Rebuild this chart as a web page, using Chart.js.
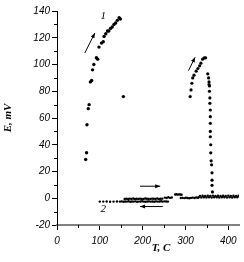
<!DOCTYPE html>
<html>
<head>
<meta charset="utf-8">
<script src="https://cdn.jsdelivr.net/npm/chart.js@4/dist/chart.umd.min.js"></script>
<style>
  html, body { margin: 0; padding: 0; background: #fff; }
  #wrap { width: 244px; height: 262px; }
</style>
</head>
<body>
<div id="wrap"><canvas id="chart" width="244" height="262"></canvas></div>
<script>
const xTicks = [0, 100, 200, 300, 400];
const xMinor = [50, 150, 250, 350];
const yTicks = [-20, 0, 20, 40, 60, 80, 100, 120, 140];
const yMinor = [-10, 10, 30, 50, 70, 90, 110, 130];

// curve 1, first peak (heating)
const peak1T = [67, 69, 70, 73, 75, 78, 81, 83, 86, 92, 95, 98, 104, 108, 110, 114, 118, 121, 125, 129, 133, 137, 141, 145, 148, 155];
const peak1E = [29, 34, 55, 67, 70, 87, 88, 96, 100, 105, 104, 113, 116, 117, 121, 123, 125, 125, 127, 128, 130, 131, 133, 135, 134, 76];

// curve 1, second peak
const peak2T = [311, 313, 315, 317, 320, 325, 329, 333, 336, 340, 344, 347, 352, 354, 355, 355, 356, 356, 357, 357, 358, 358, 358, 358, 358, 359, 359, 360, 361, 362, 362, 362, 363];
const peak2E = [76, 81, 86, 90, 92, 95, 97, 99, 101, 104, 105, 105, 93, 90, 87, 85, 84, 80, 75, 71, 66, 61, 56, 50, 46, 40, 34, 28, 25, 19, 13.5, 9.7, 4.7];

// curve 2, heating branch
const heat2T = [158, 162, 166, 170, 174, 178, 182, 186, 190, 194, 198, 202, 206, 210, 214, 218, 222, 226, 230, 234, 238, 242, 246,
  252, 256, 260, 264, 268,
  276, 279, 282, 285, 288, 291,
  289, 293, 297, 301, 305, 309, 313, 317, 321, 325, 329,
  331, 334, 337, 340, 343, 346, 349, 352, 355, 358, 361, 364, 367, 370, 373, 376, 379, 382, 385, 388, 391, 394, 397, 400, 403, 406, 409, 412, 415, 418, 421, 424];
const heat2E = [-0.5, -0.4, -0.6, -0.3, -0.5, -0.2, -0.6, -0.4, -0.5, -0.3, -0.6, -0.5, -0.2, -0.4, -0.6, -0.5, -0.3, -0.4, -0.6, -0.2, -0.5, -0.4, -0.3,
  0.5, 0.2, 0.8, 0.3, 0.6,
  2.8, 3.0, 2.7, 2.9, 2.8, 2.6,
  0.2, 0.3, 0.1, 0.4, 0.2, 0.0, 0.3, 0.5, 0.2, 0.6, 0.4,
  0.7, 1.8, 0.6, 1.9, 0.8, 1.7, 0.6, 1.9, 0.7, 1.8, 0.6, 2.0, 0.7, 1.8, 0.8, 1.9, 0.6, 1.7, 0.7, 1.9, 0.8, 1.8, 0.6, 2.0, 0.7, 1.8, 0.6, 1.9, 0.8, 1.8, 0.7, 1.9];

// curve 2, cooling branch
const cool2T = [100, 108, 116, 124, 132, 140, 147, 151, 155, 159, 163, 167, 171, 175, 179, 183, 187, 191, 195, 199, 203, 207, 211, 215, 219, 223, 227, 231, 235, 239, 243, 247, 251, 255, 259];
const cool2E = [-2.5, -2.5, -2.4, -2.6, -2.5, -2.4, -2.5, -2.3, -2.6, -2.4, -2.5, -2.2, -2.6, -2.4, -2.5, -2.3, -2.6, -2.5, -2.4, -2.2, -2.5, -2.6, -2.4, -2.3, -2.5, -2.4, -2.6, -2.3, -2.5, -2.4, -2.2, -2.5, -2.3, -2.4, -2.5];

function pts(xs, ys) {
  return xs.map((x, i) => ({ x: x, y: ys[i] }));
}

const extras = {
  id: "extras",
  afterDraw(chart) {
    const { ctx, chartArea, scales: { x, y } } = chart;
    ctx.save();
    ctx.strokeStyle = "#000";
    ctx.fillStyle = "#000";
    ctx.lineWidth = 1;

    // minor ticks
    ctx.beginPath();
    xMinor.forEach(v => {
      const px = Math.round(x.getPixelForValue(v)) + 0.5;
      ctx.moveTo(px, chartArea.bottom);
      ctx.lineTo(px, chartArea.bottom + 3);
    });
    yMinor.forEach(v => {
      const py = Math.round(y.getPixelForValue(v)) + 0.5;
      ctx.moveTo(chartArea.left, py);
      ctx.lineTo(chartArea.left - 3, py);
    });
    ctx.stroke();

    // arrows (from -> to, head at "to")
    const arrows = [
      [65, 108.6, 88.5, 123.6],
      [307, 95.4, 322.5, 105.4],
      [194, 9, 241, 9],
      [247, -6.2, 194, -6.2]
    ];
    arrows.forEach(a => {
      const x1 = x.getPixelForValue(a[0]), y1 = y.getPixelForValue(a[1]);
      const x2 = x.getPixelForValue(a[2]), y2 = y.getPixelForValue(a[3]);
      const ang = Math.atan2(y2 - y1, x2 - x1);
      ctx.beginPath();
      ctx.moveTo(x1, y1);
      ctx.lineTo(x2, y2);
      ctx.stroke();
      ctx.beginPath();
      ctx.moveTo(x2, y2);
      ctx.lineTo(x2 - 5 * Math.cos(ang) + 2 * Math.sin(ang), y2 - 5 * Math.sin(ang) - 2 * Math.cos(ang));
      ctx.lineTo(x2 - 5 * Math.cos(ang) - 2 * Math.sin(ang), y2 - 5 * Math.sin(ang) + 2 * Math.cos(ang));
      ctx.closePath();
      ctx.fill();
    });

    // curve labels
    ctx.font = "italic 11px 'Liberation Serif'";
    ctx.textAlign = "center";
    ctx.textBaseline = "middle";
    ctx.fillText("1", x.getPixelForValue(108), y.getPixelForValue(136));
    ctx.fillText("2", x.getPixelForValue(108), y.getPixelForValue(-8));

    // x axis title
    ctx.font = "bold italic 11px 'Liberation Serif'";
    ctx.fillText("T, C", x.getPixelForValue(243), 248);
    ctx.restore();
  }
};

const dot = { showLine: false, backgroundColor: "#000", borderColor: "#000", borderWidth: 0 };

new Chart(document.getElementById("chart"), {
  type: "scatter",
  data: {
    datasets: [
      { ...dot, label: "1", data: pts(peak1T, peak1E), pointRadius: 1.7 },
      { ...dot, label: "1b", data: pts(peak2T, peak2E), pointRadius: 1.6 },
      { ...dot, label: "2 heat", data: pts(heat2T, heat2E), pointRadius: 1.2 },
      { ...dot, label: "2 cool", data: pts(cool2T, cool2E), pointRadius: 1.2 }
    ]
  },
  options: {
    responsive: false,
    animation: false,
    layout: { padding: { top: 11, right: 5, left: 0, bottom: 0 } },
    plugins: { legend: { display: false }, tooltip: { enabled: false } },
    scales: {
      x: {
        type: "linear",
        min: 0,
        max: 425,
        afterBuildTicks: s => { s.ticks = xTicks.map(v => ({ value: v })); },
        afterFit: s => { s.height = 37; },
        border: { display: true, color: "#808080", width: 2 },
        grid: { drawOnChartArea: false, drawTicks: true, tickLength: 5, tickColor: "#000" },
        ticks: { color: "#000", padding: 5, maxRotation: 0, font: { family: "'Liberation Sans'", style: "italic", size: 10 } }
      },
      y: {
        type: "linear",
        min: -20,
        max: 140,
        afterBuildTicks: s => { s.ticks = yTicks.map(v => ({ value: v })); },
        afterFit: s => { s.width = 57; },
        border: { display: true, color: "#000", width: 1 },
        grid: { drawOnChartArea: false, drawTicks: true, tickLength: 5, tickColor: "#000" },
        ticks: { color: "#000", padding: 2, font: { family: "'Liberation Sans'", style: "italic", size: 10 } },
        title: {
          display: true,
          text: "E, mV",
          color: "#000",
          padding: { top: 2, bottom: 0 },
          font: { family: "'Liberation Serif'", style: "italic", weight: "bold", size: 11 }
        }
      }
    }
  },
  plugins: [extras]
});
</script>
</body>
</html>
